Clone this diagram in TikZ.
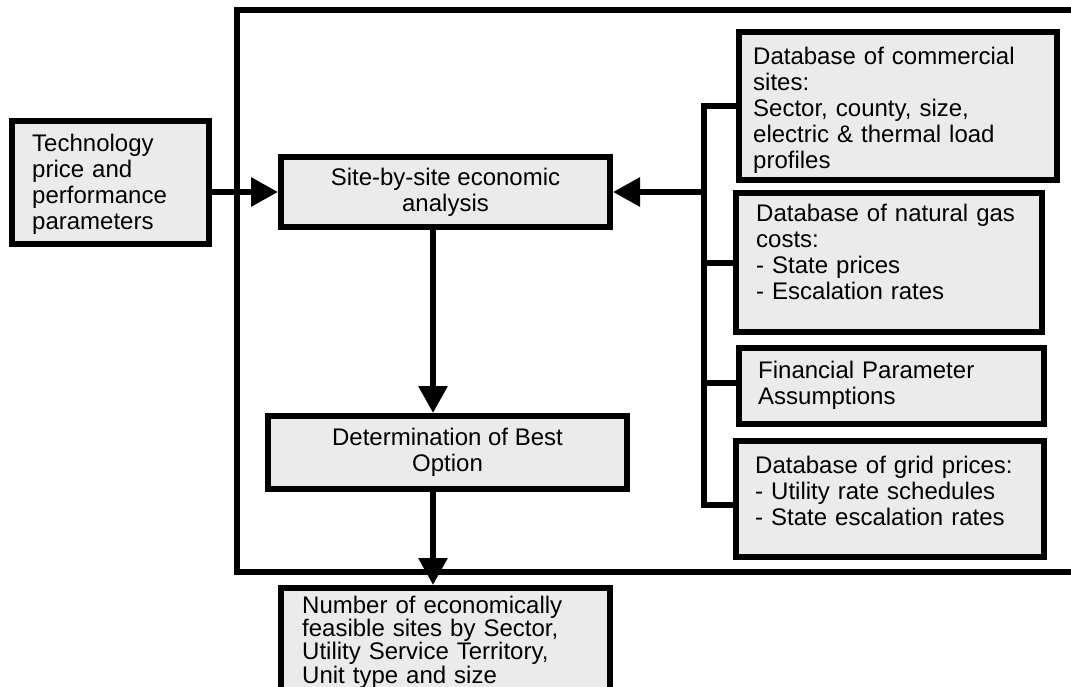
\documentclass[tikz,border=0pt]{standalone}
\usepackage{fontspec}
\setmainfont{Liberation Sans}
\usetikzlibrary{arrows.meta}

\definecolor{boxgray}{RGB}{235,235,235}
\newcommand{\diagfont}{\fontsize{24}{26}\selectfont}

\tikzset{
  box/.style={draw, line width=6pt, fill=boxgray, inner sep=0pt, outer sep=0pt, anchor=north west},
  txt/.style={anchor=base west, inner sep=0pt, text width=#1, align=left, font=\diagfont},
  link/.style={line width=6pt},
  arr/.style={line width=6pt, shorten >=3pt, -{Triangle[length=27pt,width=28pt]}}
}

\begin{document}
\begin{tikzpicture}[x=1pt, y=-1pt]
\useasboundingbox (0,0) rectangle (1071,687);

% outer frame
\draw [line width=6pt] (1085,10) -- (236.5,10) -- (236.5,572) -- (1085,572);

% left and centre boxes
\node [box, minimum width=197pt, minimum height=123pt] (tech) at (12,121) {};
\node [box, minimum width=329pt, minimum height=70pt, font=\diagfont, align=center] (site) at (281,157) {Site-by-site economic\\analysis};
\node [box, minimum width=359pt, minimum height=73pt, font=\diagfont, align=center] (best) at (268,416) {Determination of Best\\Option};
\node [box, minimum width=329pt, minimum height=102pt] (result) at (281,588) {};

% database boxes
\node [box, minimum width=318pt, minimum height=148pt] (comm) at (739,32) {};
\node [box, minimum width=306pt, minimum height=139pt] (gas) at (736,193) {};
\node [box, minimum width=305pt, minimum height=76pt] (fin) at (739,348) {};
\node [box, minimum width=308pt, minimum height=116pt] (grid) at (736,441) {};

% box texts
\node [txt=180pt] (techT) at (32,152) {Technology\\price and\\performance\\parameters};
\node [txt=300pt, font=\fontsize{24}{20}\selectfont] (resultT) at (302,613) {Number of economically\\feasible sites by Sector,\\Utility Service Territory,\\Unit type and size};
\node [txt=300pt] (commT) at (753,65) {Database of commercial\\sites:\\Sector, county, size,\\electric \& thermal load\\profiles};
\node [txt=285pt] (gasT) at (756,222) {Database of natural gas\\costs:\\- State prices\\- Escalation rates};
\node [txt=285pt] (finT) at (758,378) {Financial Parameter\\Assumptions};
\node [txt=285pt] (gridT) at (755,473) {Database of grid prices:\\- Utility rate schedules\\- State escalation rates};

% collector line
\coordinate (bustop) at (704,106);
\coordinate (busbot) at (704,505);
\draw [link] (comm.west) -- (bustop) -- (busbot) -- ([yshift=-6pt]grid.west);
\draw [link] (gas.west) -- (gas.west -| bustop);
\draw [link] ([yshift=3pt]fin.west) -- ([yshift=3pt]fin.west -| bustop);

% arrows
\draw [arr] (tech.east |- site.west) -- (site.west);
\draw [arr] (site.east -| bustop) -- (site.east);
\draw [arr] ([xshift=-12.5pt]site.south) -- ([xshift=-12.5pt]site.south |- best.north);
\draw [arr] ([xshift=-14.5pt]best.south) -- ([xshift=-14.5pt]best.south |- result.north);

\end{tikzpicture}
\end{document}
